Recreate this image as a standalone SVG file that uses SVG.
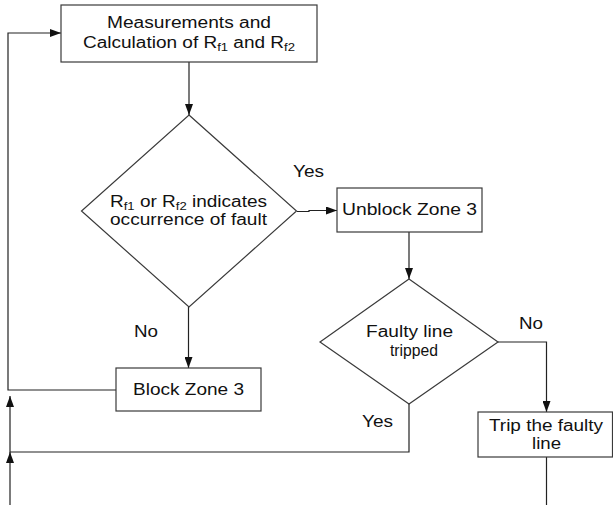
<svg xmlns="http://www.w3.org/2000/svg" width="613" height="505" viewBox="0 0 613 505">
<defs>
<marker id="arr" markerUnits="userSpaceOnUse" markerWidth="11" markerHeight="8" refX="11" refY="4" orient="auto">
<path d="M0,0 L11,4 L0,8 z" fill="#111"/>
</marker>
<style>
.box{fill:#fff;stroke:#3a3a3a;stroke-width:1.2}
.t{font-family:"Liberation Sans",Arial,sans-serif;font-size:16px;fill:#111}
.s{font-size:11px}
.c{fill:none;stroke:#222;stroke-width:1.2}
</style>
</defs>
<rect width="613" height="505" fill="#fff"/>
<g id="connectors">
<path class="c" d="M116,390 H8 V33 H61" marker-end="url(#arr)"/>
<path class="c" d="M189,62 V115" marker-end="url(#arr)"/>
<path class="c" d="M297,211.5 H309 V210.5 H337" marker-end="url(#arr)"/>
<path class="c" d="M188.5,307 V368" marker-end="url(#arr)"/>
<path class="c" d="M409,232 V279" marker-end="url(#arr)"/>
<path class="c" d="M498,342 H546.5 V412" marker-end="url(#arr)"/>
<path class="c" d="M409,404 V452 H10 V396" marker-end="url(#arr)"/>
<path class="c" d="M10,505 V452" marker-end="url(#arr)"/>
<path class="c" d="M546.5,457 V505"/>
<text class="t" x="293" y="177" textLength="31" lengthAdjust="spacingAndGlyphs">Yes</text>
<text class="t" x="134" y="337" textLength="24" lengthAdjust="spacingAndGlyphs">No</text>
<text class="t" x="519" y="329" textLength="24" lengthAdjust="spacingAndGlyphs">No</text>
<text class="t" x="362" y="427" textLength="31" lengthAdjust="spacingAndGlyphs">Yes</text>
</g>
<g id="measure">
<rect class="box" x="61" y="5" width="256" height="57"/>
<text class="t" x="107" y="28" textLength="164" lengthAdjust="spacingAndGlyphs">Measurements and</text>
<text class="t" x="83" y="48" textLength="212" lengthAdjust="spacingAndGlyphs">Calculation of R<tspan class="s" dy="3">f1</tspan><tspan dy="-3"> and R</tspan><tspan class="s" dy="3">f2</tspan></text>
</g>
<g id="decision1">
<polygon class="box" points="189,115 296.5,211 189,307 81.5,211"/>
<text class="t" x="110" y="207" textLength="157" lengthAdjust="spacingAndGlyphs">R<tspan class="s" dy="3">f1</tspan><tspan dy="-3"> or R</tspan><tspan class="s" dy="3">f2</tspan><tspan dy="-3"> indicates</tspan></text>
<text class="t" x="110" y="225" textLength="157" lengthAdjust="spacingAndGlyphs">occurrence of fault</text>
</g>
<g id="unblock">
<rect class="box" x="337" y="188" width="145" height="44"/>
<text class="t" x="342" y="215" textLength="135" lengthAdjust="spacingAndGlyphs">Unblock Zone 3</text>
</g>
<g id="decision2">
<polygon class="box" points="409,279 498,342 409,404 320,342"/>
<text class="t" x="366" y="337" textLength="87" lengthAdjust="spacingAndGlyphs">Faulty line</text>
<text class="t" x="390" y="356" textLength="48" lengthAdjust="spacingAndGlyphs">tripped</text>
</g>
<g id="block">
<rect class="box" x="116" y="368" width="145" height="43"/>
<text class="t" x="133" y="395" textLength="111" lengthAdjust="spacingAndGlyphs">Block Zone 3</text>
</g>
<g id="trip">
<rect class="box" x="478" y="412" width="134.5" height="45"/>
<text class="t" x="489" y="430.5" textLength="114" lengthAdjust="spacingAndGlyphs">Trip the faulty</text>
<text class="t" x="532" y="449" textLength="29" lengthAdjust="spacingAndGlyphs">line</text>
</g>
</svg>
